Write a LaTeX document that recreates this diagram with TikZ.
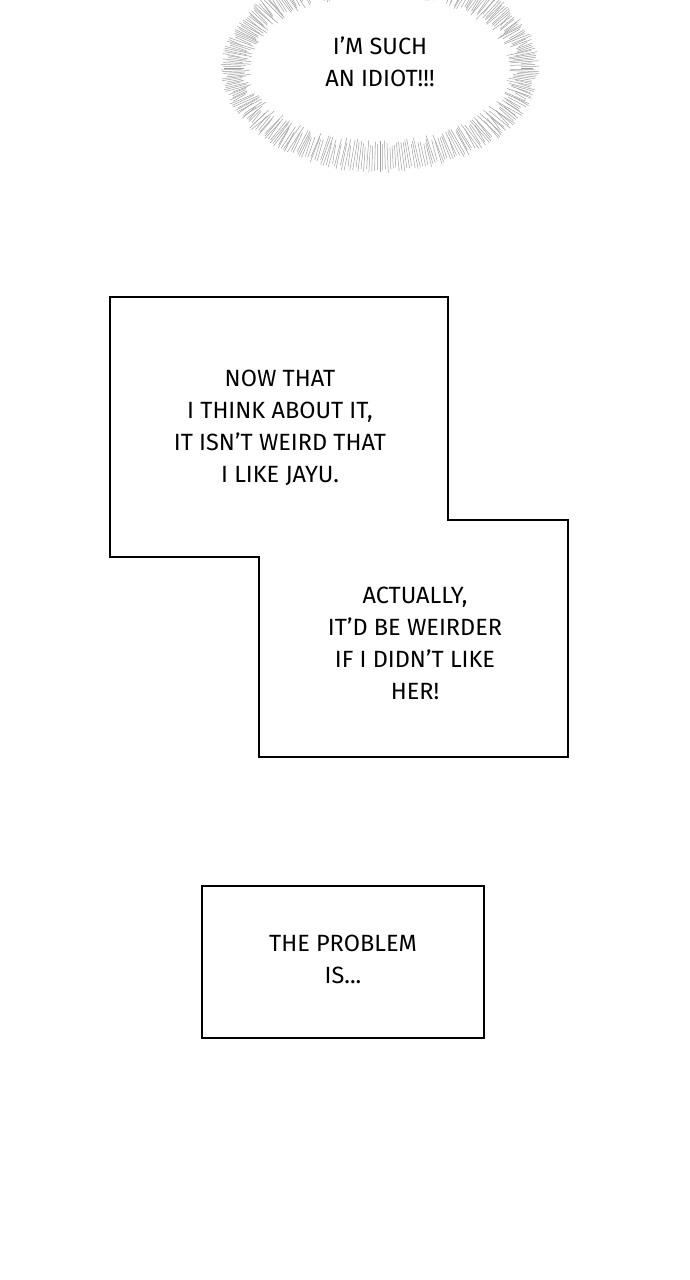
\documentclass[tikz,border=0pt]{standalone}
\usepackage{fontspec}
\setmainfont{Fira Sans}
\begin{document}
\begin{tikzpicture}[x=1pt,y=-1pt,
  box/.style={draw=black,line width=1.6pt,fill=white},
  txt/.style={align=center,font=\fontsize{23.5}{32}\selectfont}]
\useasboundingbox (0,0) rectangle (690,1280);
\fill[white] (0,0) rectangle (690,1280);
\begin{scope}
\clip (0,0) rectangle (690,1280);
\pgfmathsetseed{7}
\foreach \a in {0,1,...,359.9}{
  \pgfmathsetmacro{\ri}{1+0.12*rnd}
  \pgfmathsetmacro{\ro}{1.0+0.05*rnd}
  \draw[gray!75,line width=0.5pt] ({380+128*\ri*cos(\a)},{68+72*\ri*sin(\a)}) -- ({380+152*\ro*cos(\a)},{68+100*\ro*sin(\a)});
}
\end{scope}
\node[txt] (t1) at (380,62) {I'M SUCH\\AN IDIOT!!!};
\draw[box] (110,297) -- (448,297) -- (448,520) -- (568,520) -- (568,757) -- (259,757) -- (259,557) -- (110,557) -- cycle;
\node[txt] (t2) at (280,428) {NOW THAT\\I THINK ABOUT IT,\\IT ISN'T WEIRD THAT\\I LIKE JAYU.};
\node[txt] (t3) at (415,643) {ACTUALLY,\\IT'D BE WEIRDER\\IF I DIDN'T LIKE\\HER!};
\draw[box] (202,886) rectangle (484,1038);
\node[txt] (t4) at (343,959) {THE PROBLEM\\IS...};
\end{tikzpicture}
\end{document}
